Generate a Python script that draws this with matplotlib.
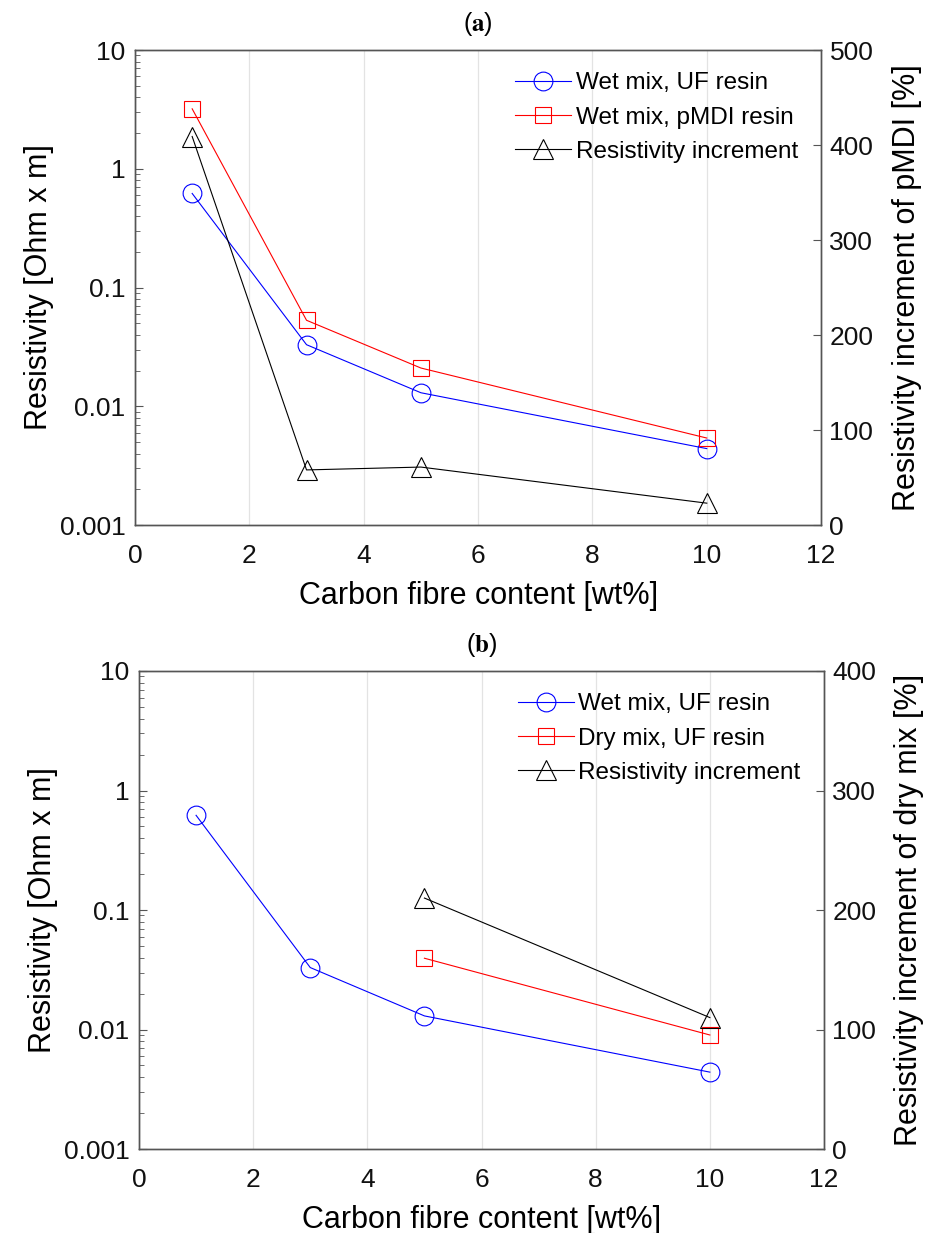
import matplotlib
matplotlib.use("Agg")
import matplotlib.pyplot as plt
from matplotlib.ticker import FixedLocator, FixedFormatter, LogLocator, NullFormatter

plt.rcParams['font.family'] = ['Liberation Sans', 'DejaVu Sans']
plt.rcParams['mathtext.fontset'] = 'stix'

# ---- data ----
x_wet = [1, 3, 5, 10]
wet_uf = [0.62, 0.033, 0.013, 0.0044]
wet_pmdi = [3.2, 0.053, 0.021, 0.0054]
incr_pmdi = [409, 58, 61, 23]

x_dry = [5, 10]
dry_uf = [0.0395, 0.0090]
incr_dry = [210, 110]

xticks = [0, 2, 4, 6, 8, 10, 12]
yticks = [0.001, 0.01, 0.1, 1, 10]
ytick_labels = ['0.001', '0.01', '0.1', '1', '10']

fig = plt.figure(figsize=(9.31, 12.33), dpi=100)

spine_col = '#555555'
grid_col = '#e3e3e3'
TICK_FS = 19
LABEL_FS = 22
LEG_FS = 17.5


def style_axes(ax, ax2, title, right_label, right_max, right_ticks, labels, series):
    ax.set_yscale('log')
    ax.set_xlim(0, 12)
    ax.set_ylim(0.001, 10)
    ax.set_xticks(xticks)
    ax.set_xticklabels([str(t) for t in xticks])
    ax.yaxis.set_major_locator(FixedLocator(yticks))
    ax.yaxis.set_major_formatter(FixedFormatter(ytick_labels))
    ax.yaxis.set_minor_locator(LogLocator(base=10, subs=range(2, 10), numticks=20))
    ax.yaxis.set_minor_formatter(NullFormatter())
    ax.xaxis.grid(True, color=grid_col, linewidth=0.9)
    ax.set_axisbelow(True)
    ax.tick_params(axis='both', which='both', direction='in', labelsize=TICK_FS,
                   colors='#111111')
    ax.tick_params(axis='y', which='major', length=6, color=spine_col, pad=7)
    ax.tick_params(axis='y', which='minor', length=3.5, color=spine_col)
    ax.tick_params(axis='x', which='major', length=0, pad=14)
    ax.set_xlabel('Carbon fibre content [wt%]', fontsize=LABEL_FS, labelpad=9)
    ax.set_ylabel('Resistivity [Ohm x m]', fontsize=LABEL_FS, labelpad=4)
    for s in ax.spines.values():
        s.set_color(spine_col)
        s.set_linewidth(1.0)

    ax2.set_ylim(0, right_max)
    ax2.set_yticks(right_ticks)
    ax2.set_yticklabels([str(t) for t in right_ticks])
    ax2.tick_params(axis='y', direction='in', labelsize=TICK_FS, length=6,
                    color=spine_col, colors='#111111', pad=6)
    ax2.set_ylabel(right_label, fontsize=LABEL_FS, labelpad=13)
    for s in ax2.spines.values():
        s.set_color(spine_col)
        s.set_linewidth(1.0)

    ax.set_title(title, fontsize=18, pad=14)

    (xa, ya, xb, yb, xc, yc) = series
    l1, = ax.plot(xa, ya, color='#0000ff', marker='o', markersize=13.5,
                  markerfacecolor='none', markeredgewidth=0.8, linewidth=0.8)
    l2, = ax.plot(xb, yb, color='#ff0000', marker='s', markersize=11,
                  markerfacecolor='none', markeredgewidth=0.8, linewidth=0.8)
    l3, = ax2.plot(xc, yc, color='#000000', marker='^', markersize=14,
                   markerfacecolor='none', markeredgewidth=0.8, linewidth=0.8)
    ax2.legend([l1, l2, l3], labels, loc='upper right',
               bbox_to_anchor=(0.966, 0.953), frameon=False, fontsize=LEG_FS,
               handlelength=2.3, handletextpad=0.2, labelspacing=0.5,
               borderaxespad=0.0, borderpad=0.0)


# Panel (a)
axa = fig.add_axes([0.145, 0.5742, 0.737, 0.3852])
axa2 = axa.twinx()
style_axes(axa, axa2, r'($\mathbf{a}$)', 'Resistivity increment of pMDI [%]', 500,
           [0, 100, 200, 300, 400, 500],
           ['Wet mix, UF resin', 'Wet mix, pMDI resin', 'Resistivity increment'],
           (x_wet, wet_uf, x_wet, wet_pmdi, x_wet, incr_pmdi))

# Panel (b)
axb = fig.add_axes([0.1493, 0.0681, 0.7358, 0.3877])
axb2 = axb.twinx()
style_axes(axb, axb2, r'($\mathbf{b}$)', 'Resistivity increment of dry mix [%]', 400,
           [0, 100, 200, 300, 400],
           ['Wet mix, UF resin', 'Dry mix, UF resin', 'Resistivity increment'],
           (x_wet, wet_uf, x_dry, dry_uf, x_dry, incr_dry))

fig.savefig('out.png', dpi=100)
